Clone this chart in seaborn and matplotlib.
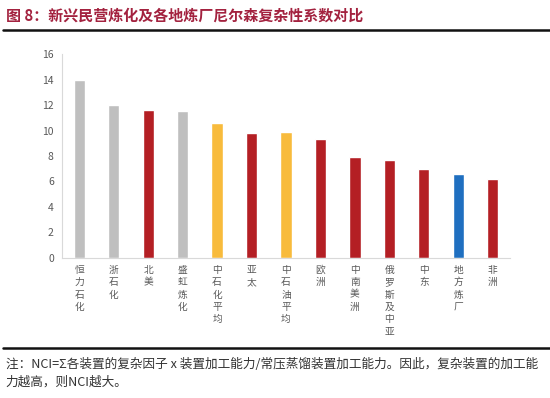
import matplotlib
matplotlib.use('Agg')
import matplotlib.pyplot as plt
import seaborn as sns
import pandas as pd
from matplotlib.lines import Line2D

sns.set_theme(style='white')
plt.rcParams['font.family'] = ['Noto Sans CJK SC', 'DejaVu Sans']

# data
refineries = ['恒力石化', '浙石化', '北美', '盛虹炼化', '中石化平均', '亚太', '中石油平均',
              '欧洲', '中南美洲', '俄罗斯及中亚', '中东', '地方炼厂', '非洲']
nci = [14.0, 12.0, 11.6, 11.5, 10.6, 9.8, 9.9, 9.3, 7.9, 7.7, 7.0, 6.6, 6.2]
groups = ['民营', '民营', '地区', '民营', '国企', '地区', '国企',
          '地区', '地区', '地区', '地区', '地方', '地区']

palette = {'民营': '#BFBFBF', '地区': '#B41F24', '国企': '#F8BB3C', '地方': '#1F6FC0'}

df = pd.DataFrame({'炼厂': refineries, 'NCI': nci, '类别': groups})

fig = plt.figure(figsize=(5.5, 3.98), dpi=100)
ax = fig.add_axes([0.113, 0.352, 0.814, 0.512])

sns.barplot(data=df, x='炼厂', y='NCI', hue='类别', palette=palette,
            dodge=False, width=0.33, saturation=1, legend=False, ax=ax)

ax.set_ylim(0, 16)
ax.set_xlim(-0.5, len(refineries) - 0.5)
ax.set_yticks(range(0, 17, 2))
ax.set_xlabel('')
ax.set_ylabel('')
ax.set_xticks(range(len(refineries)))
ax.set_xticklabels(['\n'.join(n) for n in refineries], va='top', linespacing=1.3)
ax.tick_params(axis='x', labelsize=7, colors='#595959', length=0, pad=5)
ax.tick_params(axis='y', labelsize=7.5, colors='#595959', length=0, pad=6)
for s in ['top', 'right']:
    ax.spines[s].set_visible(False)
for s in ['left', 'bottom']:
    ax.spines[s].set_color('#D9D9D9')
    ax.spines[s].set_linewidth(0.8)

# title and note
fig.text(0.01, 0.962, '图 8：新兴民营炼化及各地炼厂尼尔森复杂性系数对比',
         fontsize=10.8, fontweight='bold', color='#A3223F', va='center')
fig.add_artist(Line2D([0.005, 1.0], [0.925, 0.925], color='#111111', lw=1.8))
fig.add_artist(Line2D([0.005, 1.0], [0.125, 0.125], color='#111111', lw=1.8))
fig.text(0.01, 0.083, '注：NCI=Σ各装置的复杂因子 x 装置加工能力/常压蒸馏装置加工能力。因此，复杂装置的加工能',
         fontsize=9.1, color='#333333', va='center')
fig.text(0.01, 0.04, '力越高，则NCI越大。', fontsize=9.1, color='#333333', va='center')

plt.savefig('out.png', dpi=100)
plt.close()
